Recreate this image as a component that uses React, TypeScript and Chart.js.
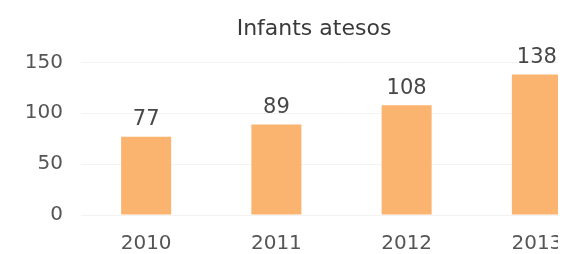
import React, { useEffect, useRef } from "react";
import { Chart, registerables } from "chart.js";

Chart.register(...registerables);

const categories = ["2010", "2011", "2012", "2013"];
const values = [77, 89, 108, 138];
const yTicks = [0, 50, 100, 150];
const titleText = "Infants atesos";

const FONT = "'DejaVu Sans', sans-serif";

const valueLabels = {
  id: "valueLabels",
  afterDatasetsDraw(chart: any) {
    const ctx = chart.ctx;
    const meta = chart.getDatasetMeta(0);
    ctx.save();
    ctx.font = `21px ${FONT}`;
    ctx.fillStyle = "#474747";
    ctx.textAlign = "center";
    ctx.textBaseline = "middle";
    meta.data.forEach((bar: any, i: number) => {
      ctx.fillText(String(values[i]), bar.x, bar.y - 17);
    });
    ctx.restore();
  },
};

export default function App() {
  const ref = useRef<HTMLCanvasElement | null>(null);
  useEffect(() => {
    if (!ref.current) return;
    const chart = new Chart(ref.current, {
      type: "bar",
      data: {
        labels: categories,
        datasets: [
          {
            data: values,
            backgroundColor: "#FBB46F",
            borderWidth: 0,
            barPercentage: 0.384,
            categoryPercentage: 1,
          },
        ],
      },
      options: {
        animation: false,
        responsive: true,
        maintainAspectRatio: false,
        layout: { padding: { left: 18, right: 6, top: 0, bottom: 0 } },
        plugins: {
          legend: { display: false },
          tooltip: { enabled: false },
          title: {
            display: true,
            text: titleText,
            color: "#3a3a3a",
            font: { family: FONT, size: 22, weight: "normal" },
            padding: { top: 8, bottom: 20 },
          },
        },
        scales: {
          x: {
            grid: { display: false },
            border: { display: false },
            ticks: {
              color: "#555",
              font: { family: FONT, size: 20 },
              padding: 9,
              maxRotation: 0,
            },
            afterFit: (s: any) => {
              s.height = 39;
            },
          },
          y: {
            min: 0,
            max: 150,
            afterBuildTicks: (s: any) => {
              s.ticks = yTicks.map((v) => ({ value: v }));
            },
            grid: { color: "#f3f3f3", drawTicks: false },
            border: { display: false },
            ticks: {
              color: "#555",
              font: { family: FONT, size: 20 },
              padding: 18,
            },
            afterFit: (s: any) => {
              s.width = 55;
            },
          },
        },
      },
      plugins: [valueLabels],
    });
    return () => chart.destroy();
  }, []);

  return (
    <div style={{ width: 558, height: 246, overflow: "hidden" }}>
      <div style={{ width: 600, height: 246, position: "relative" }}>
        <canvas ref={ref} />
      </div>
    </div>
  );
}
